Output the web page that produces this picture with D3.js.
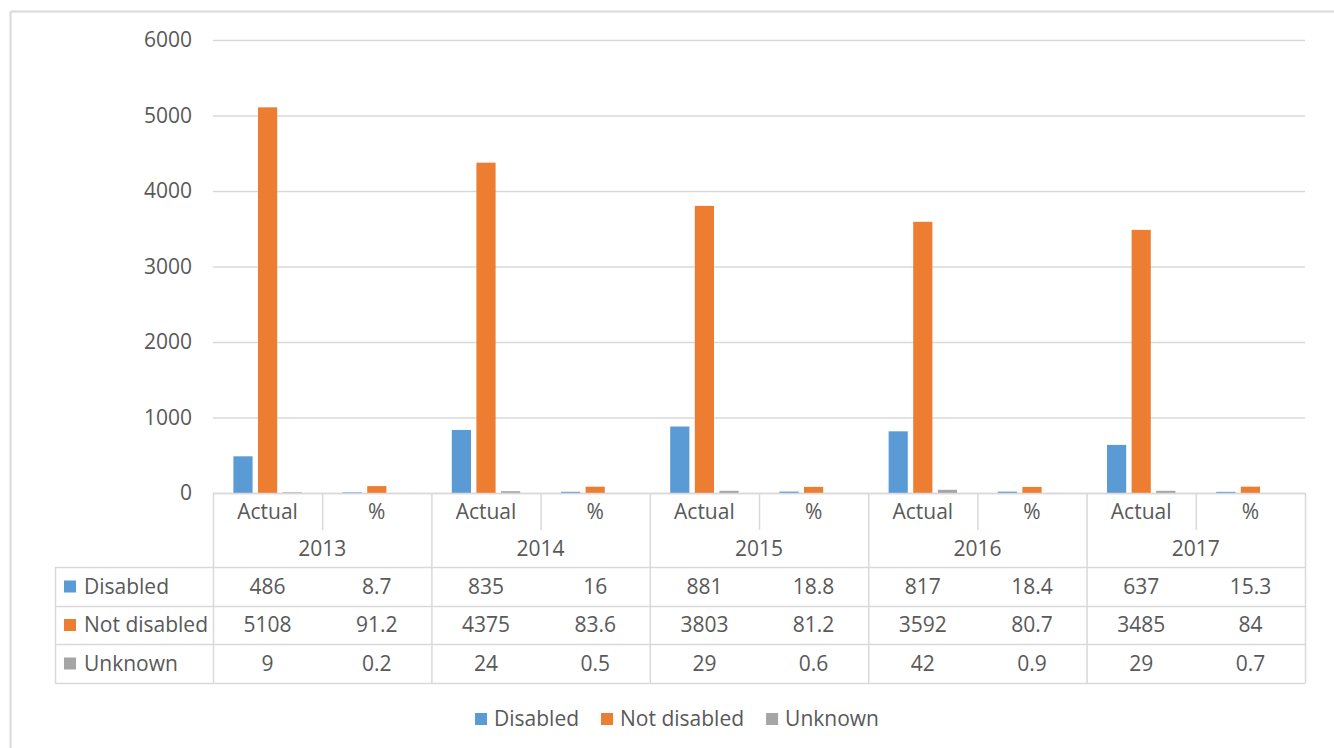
<!DOCTYPE html>
<html>
<head>
<meta charset="utf-8">
<script src="https://cdn.jsdelivr.net/npm/d3@7"></script>
<style>
  html, body { margin: 0; padding: 0; background: #fff; }
  svg { display: block; font-family: "Open Sans", "Noto Sans", sans-serif; }
</style>
</head>
<body>
<svg id="chart" width="1334" height="748"></svg>
<script>
// Years and the two measures shown for each year
const years = ["2013", "2014", "2015", "2016", "2017"];
const measures = ["Actual", "%"];

// Series names and colours
const seriesNames = ["Disabled", "Not disabled", "Unknown"];
const seriesColors = ["#5b9bd5", "#ed7d31", "#a5a5a5"];

// Values per series, ordered year by year as [Actual, %]
const disabled    = [486, 8.7, 835, 16, 881, 18.8, 817, 18.4, 637, 15.3];
const notDisabled = [5108, 91.2, 4375, 83.6, 3803, 81.2, 3592, 80.7, 3485, 84];
const unknown     = [9, 0.2, 24, 0.5, 29, 0.6, 42, 0.9, 29, 0.7];

// Labels as printed in the data table
const disabledText    = ["486", "8.7", "835", "16", "881", "18.8", "817", "18.4", "637", "15.3"];
const notDisabledText = ["5108", "91.2", "4375", "83.6", "3803", "81.2", "3592", "80.7", "3485", "84"];
const unknownText     = ["9", "0.2", "24", "0.5", "29", "0.6", "42", "0.9", "29", "0.7"];

const yTicks = [0, 1000, 2000, 3000, 4000, 5000, 6000];

const seriesValues = [disabled, notDisabled, unknown];
const seriesText = [disabledText, notDisabledText, unknownText];

const textColor = "#595959";
const lineColor = "#d9d9d9";
const fontSize = 21;

const svg = d3.select("#chart");

// Chart frame (top and left edges visible)
svg.append("line").attr("x1", 10.5).attr("x2", 1334).attr("y1", 11.5).attr("y2", 11.5)
  .attr("stroke", lineColor).attr("stroke-width", 2);
svg.append("line").attr("x1", 10.5).attr("x2", 10.5).attr("y1", 11.5).attr("y2", 748)
  .attr("stroke", lineColor).attr("stroke-width", 2);

const plot = { left: 213, right: 1305, top: 40, bottom: 493 };

// Column keys: one column per (year, measure)
const columns = [];
years.forEach(y => measures.forEach(m => columns.push(y + "|" + m)));

const x = d3.scaleBand().domain(columns).range([plot.left, plot.right]).padding(0);
const y = d3.scaleLinear().domain([0, 6000]).range([plot.bottom, plot.top]);

const inner = d3.scaleBand().domain(seriesNames)
  .range([-34.2, 34.2]).paddingInner(0.22).paddingOuter(0);

// Gridlines and y-axis labels
const yAxis = d3.axisLeft(y).tickValues(yTicks).tickSize(-(plot.right - plot.left)).tickPadding(21)
  .tickFormat(d3.format("d"));
const yg = svg.append("g").attr("transform", `translate(${plot.left},0)`).call(yAxis);
yg.select(".domain").remove();
yg.selectAll(".tick line").attr("stroke", lineColor).attr("stroke-width", 1.5);
yg.selectAll(".tick text").attr("fill", textColor).attr("font-size", fontSize)
  .attr("font-family", "'Open Sans', sans-serif");

// Bars
seriesNames.forEach((name, si) => {
  svg.append("g").selectAll("rect")
    .data(seriesValues[si])
    .join("rect")
    .attr("x", (d, i) => x(columns[i]) + x.bandwidth() / 2 + inner(name))
    .attr("width", inner.bandwidth())
    .attr("y", d => y(d))
    .attr("height", d => y(0) - y(d))
    .attr("fill", seriesColors[si]);
});

// Data table
const tbl = svg.append("g").attr("class", "data-table");
const colW = x.bandwidth();
const rowHeader1 = [493, 530];
const rowHeader2 = [530, 567];
const rowBounds = [567, 606, 644, 683];
const labelLeft = 55.5;

function hline(x1, x2, yy) {
  tbl.append("line").attr("x1", x1).attr("x2", x2).attr("y1", yy).attr("y2", yy)
    .attr("stroke", lineColor).attr("stroke-width", 1.5);
}
function vline(xx, y1, y2) {
  tbl.append("line").attr("x1", xx).attr("x2", xx).attr("y1", y1).attr("y2", y2)
    .attr("stroke", lineColor).attr("stroke-width", 1.5);
}

// Horizontal axis line / table top
hline(plot.left, plot.right, 493.5);
rowBounds.forEach(yy => hline(labelLeft, plot.right, yy + 0.5));
// Year separators span the whole table
years.forEach((yr, i) => vline(x(yr + "|Actual") + 0.5, 493, 683.5));
vline(plot.right + 0.5, 493, 683.5);
vline(labelLeft, 567, 683.5);
// Measure separators only in the first header row
years.forEach(yr => vline(x(yr + "|%") + 0.5, 493, 530));

function txt(g, s, xx, yy, anchor) {
  return g.append("text").attr("x", xx).attr("y", yy).attr("dy", "0.35em")
    .attr("text-anchor", anchor || "middle")
    .attr("fill", textColor).attr("font-size", fontSize).text(s);
}

columns.forEach(c => {
  const m = c.split("|")[1];
  txt(tbl, m, x(c) + colW / 2, (rowHeader1[0] + rowHeader1[1]) / 2);
});
years.forEach(yr => {
  txt(tbl, yr, x(yr + "|Actual") + colW, (rowHeader2[0] + rowHeader2[1]) / 2);
});

seriesNames.forEach((name, si) => {
  const cy = (rowBounds[si] + rowBounds[si + 1]) / 2;
  tbl.append("rect").attr("x", 64).attr("y", cy - 6).attr("width", 12).attr("height", 12)
    .attr("fill", seriesColors[si]);
  txt(tbl, name, 84, cy, "start");
  seriesText[si].forEach((s, i) => txt(tbl, s, x(columns[i]) + colW / 2, cy));
});

// Legend: key square, label, laid out left to right and centred
const legend = svg.append("g").attr("class", "legend");
const keySize = 12, keyGap = 7, itemGap = 22, legendY = 719, legendCenter = 677;
const items = seriesNames.map((name, si) => {
  const g = legend.append("g");
  g.append("rect").attr("x", 0).attr("y", legendY - keySize / 2)
    .attr("width", keySize).attr("height", keySize).attr("fill", seriesColors[si]);
  const t = txt(g, name, keySize + keyGap, legendY, "start");
  const w = keySize + keyGap + t.node().getComputedTextLength();
  return { g, w };
});
const totalW = d3.sum(items, d => d.w) + itemGap * (items.length - 1);
let cx = legendCenter - totalW / 2;
items.forEach(it => {
  it.g.attr("transform", `translate(${cx},0)`);
  cx += it.w + itemGap;
});
</script>
</body>
</html>
